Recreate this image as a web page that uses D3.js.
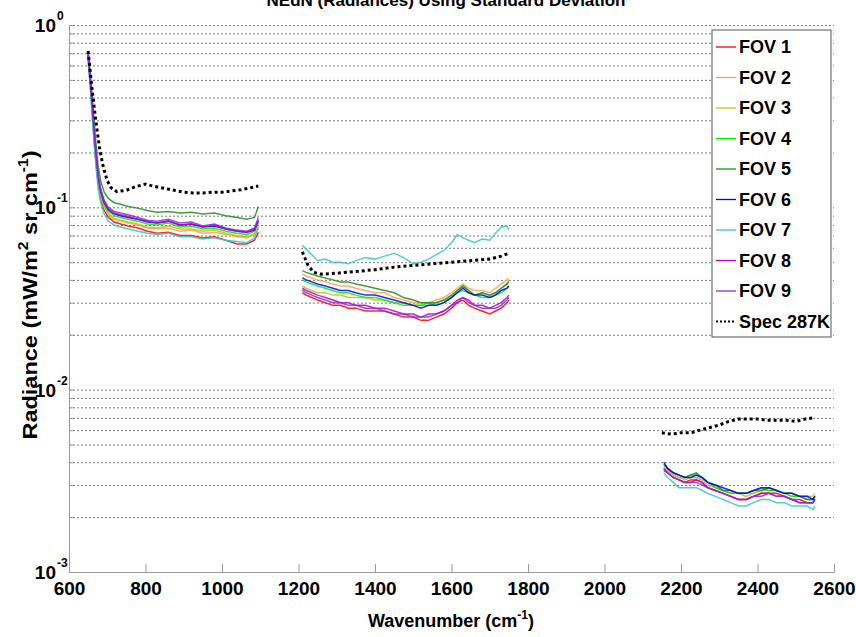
<!DOCTYPE html>
<html>
<head>
<meta charset="utf-8">
<script src="https://cdn.jsdelivr.net/npm/d3@7"></script>
<style>
  body { margin: 0; background: #fff; }
  svg { display: block; font-family: "Liberation Sans", Arial, sans-serif; }
</style>
</head>
<body>
<div id="chart"></div>
<script>
// series names + colours (MATLAB-ish)
const fovNames = ["FOV 1", "FOV 2", "FOV 3", "FOV 4", "FOV 5", "FOV 6", "FOV 7", "FOV 8", "FOV 9"];
const fovColors = ["#ff0000", "#ffa050", "#c0c020", "#00ee00", "#1e8c1e", "#0000ff", "#30c8c8", "#c000c0", "#8a2be2"];
const specName = "Spec 287K";

const xTicks = [600, 800, 1000, 1200, 1400, 1600, 1800, 2000, 2200, 2400, 2600];
const yMajor = [1e-3, 1e-2, 1e-1, 1];

// band 1 (LW)
const band1Wn = [650, 655, 660, 665, 670, 676, 683, 692, 703, 718, 735, 755, 780, 805, 830, 860, 890, 920, 950, 980, 1010, 1040, 1065, 1085, 1095];
const band1Values = [
  [0.66, 0.49, 0.35, 0.245, 0.18, 0.134, 0.111, 0.096, 0.088, 0.083, 0.081, 0.079, 0.077, 0.074, 0.072, 0.073, 0.070, 0.070, 0.068, 0.069, 0.066, 0.063, 0.063, 0.066, 0.073],
  [0.68, 0.50, 0.36, 0.255, 0.19, 0.140, 0.116, 0.100, 0.091, 0.086, 0.084, 0.082, 0.080, 0.077, 0.076, 0.077, 0.074, 0.075, 0.072, 0.073, 0.071, 0.069, 0.068, 0.071, 0.078],
  [0.67, 0.50, 0.36, 0.255, 0.19, 0.141, 0.117, 0.101, 0.092, 0.087, 0.085, 0.083, 0.081, 0.078, 0.077, 0.079, 0.076, 0.076, 0.074, 0.075, 0.072, 0.070, 0.069, 0.072, 0.079],
  [0.68, 0.51, 0.37, 0.26, 0.195, 0.145, 0.120, 0.104, 0.095, 0.090, 0.088, 0.086, 0.084, 0.081, 0.080, 0.082, 0.078, 0.079, 0.076, 0.077, 0.074, 0.072, 0.071, 0.074, 0.082],
  [0.72, 0.56, 0.42, 0.31, 0.23, 0.170, 0.139, 0.121, 0.112, 0.106, 0.104, 0.101, 0.099, 0.096, 0.094, 0.095, 0.093, 0.094, 0.092, 0.093, 0.090, 0.088, 0.086, 0.088, 0.101],
  [0.69, 0.52, 0.38, 0.27, 0.20, 0.148, 0.122, 0.106, 0.097, 0.092, 0.090, 0.088, 0.086, 0.083, 0.082, 0.084, 0.080, 0.081, 0.078, 0.079, 0.076, 0.074, 0.073, 0.075, 0.085],
  [0.64, 0.47, 0.33, 0.235, 0.172, 0.128, 0.106, 0.092, 0.084, 0.080, 0.078, 0.076, 0.074, 0.072, 0.071, 0.072, 0.069, 0.069, 0.067, 0.068, 0.066, 0.065, 0.064, 0.068, 0.077],
  [0.70, 0.52, 0.38, 0.27, 0.20, 0.149, 0.123, 0.107, 0.098, 0.093, 0.091, 0.089, 0.086, 0.084, 0.082, 0.084, 0.080, 0.081, 0.078, 0.080, 0.076, 0.074, 0.073, 0.076, 0.084],
  [0.70, 0.53, 0.39, 0.28, 0.205, 0.152, 0.126, 0.109, 0.100, 0.095, 0.093, 0.091, 0.088, 0.085, 0.084, 0.086, 0.082, 0.083, 0.079, 0.081, 0.077, 0.075, 0.074, 0.077, 0.088]
];

// band 2 (MW)
const band2Wn = [1210, 1220, 1235, 1250, 1270, 1290, 1310, 1330, 1350, 1375, 1400, 1425, 1450, 1475, 1500, 1520, 1540, 1560, 1580, 1600, 1615, 1630, 1645, 1660, 1680, 1700, 1715, 1730, 1745, 1750];
const band2Values = [
  [0.034, 0.033, 0.032, 0.031, 0.030, 0.029, 0.029, 0.028, 0.028, 0.027, 0.027, 0.027, 0.026, 0.025, 0.025, 0.024, 0.024, 0.025, 0.026, 0.028, 0.030, 0.031, 0.029, 0.028, 0.027, 0.026, 0.027, 0.028, 0.030, 0.031],
  [0.043, 0.042, 0.041, 0.040, 0.039, 0.038, 0.037, 0.037, 0.036, 0.035, 0.034, 0.034, 0.032, 0.031, 0.030, 0.030, 0.030, 0.031, 0.032, 0.034, 0.036, 0.038, 0.036, 0.035, 0.035, 0.034, 0.036, 0.038, 0.040, 0.041],
  [0.037, 0.036, 0.035, 0.034, 0.034, 0.033, 0.033, 0.032, 0.032, 0.032, 0.031, 0.031, 0.030, 0.030, 0.029, 0.029, 0.029, 0.030, 0.031, 0.032, 0.035, 0.037, 0.035, 0.033, 0.034, 0.033, 0.034, 0.036, 0.038, 0.040],
  [0.040, 0.039, 0.038, 0.037, 0.036, 0.035, 0.034, 0.034, 0.033, 0.032, 0.032, 0.031, 0.030, 0.029, 0.029, 0.029, 0.030, 0.029, 0.030, 0.032, 0.034, 0.035, 0.034, 0.033, 0.032, 0.032, 0.033, 0.034, 0.036, 0.037],
  [0.045, 0.044, 0.043, 0.042, 0.041, 0.040, 0.039, 0.039, 0.038, 0.037, 0.036, 0.035, 0.034, 0.032, 0.031, 0.030, 0.030, 0.030, 0.031, 0.033, 0.035, 0.037, 0.035, 0.033, 0.034, 0.033, 0.034, 0.036, 0.038, 0.039],
  [0.041, 0.040, 0.039, 0.038, 0.037, 0.036, 0.035, 0.035, 0.034, 0.033, 0.033, 0.032, 0.031, 0.030, 0.029, 0.028, 0.029, 0.029, 0.030, 0.032, 0.034, 0.036, 0.034, 0.033, 0.033, 0.032, 0.033, 0.035, 0.036, 0.037],
  [0.062, 0.059, 0.055, 0.051, 0.052, 0.050, 0.050, 0.049, 0.051, 0.053, 0.052, 0.054, 0.056, 0.053, 0.049, 0.050, 0.052, 0.055, 0.058, 0.064, 0.071, 0.068, 0.066, 0.064, 0.067, 0.066, 0.072, 0.078, 0.079, 0.076],
  [0.036, 0.035, 0.034, 0.033, 0.032, 0.031, 0.030, 0.030, 0.029, 0.029, 0.028, 0.028, 0.027, 0.026, 0.026, 0.025, 0.026, 0.026, 0.027, 0.029, 0.031, 0.032, 0.031, 0.029, 0.029, 0.028, 0.029, 0.030, 0.032, 0.033],
  [0.035, 0.034, 0.033, 0.032, 0.031, 0.030, 0.030, 0.029, 0.029, 0.028, 0.028, 0.027, 0.026, 0.026, 0.025, 0.025, 0.025, 0.026, 0.027, 0.029, 0.030, 0.032, 0.030, 0.029, 0.028, 0.028, 0.028, 0.029, 0.031, 0.032]
];

// band 3 (SW)
const band3Wn = [2155, 2165, 2180, 2195, 2210, 2225, 2240, 2255, 2270, 2290, 2310, 2330, 2350, 2370, 2390, 2410, 2430, 2450, 2470, 2490, 2510, 2530, 2545, 2550];
const band3Values = [
  [0.0037, 0.0035, 0.0033, 0.0032, 0.0031, 0.0032, 0.0032, 0.0031, 0.0029, 0.0028, 0.0027, 0.0026, 0.0025, 0.0025, 0.0026, 0.0027, 0.0027, 0.0027, 0.0026, 0.0025, 0.0025, 0.0024, 0.0024, 0.0025],
  [0.0038, 0.0036, 0.0034, 0.0033, 0.0033, 0.0033, 0.0033, 0.0032, 0.0030, 0.0029, 0.0028, 0.0027, 0.0027, 0.0027, 0.0027, 0.0028, 0.0029, 0.0028, 0.0027, 0.0026, 0.0026, 0.0025, 0.0025, 0.0026],
  [0.0037, 0.0036, 0.0034, 0.0033, 0.0032, 0.0033, 0.0033, 0.0032, 0.0031, 0.0029, 0.0028, 0.0027, 0.0027, 0.0026, 0.0027, 0.0028, 0.0028, 0.0028, 0.0027, 0.0027, 0.0026, 0.0026, 0.0026, 0.0027],
  [0.0039, 0.0037, 0.0035, 0.0034, 0.0033, 0.0034, 0.0034, 0.0033, 0.0031, 0.0029, 0.0028, 0.0027, 0.0027, 0.0027, 0.0028, 0.0029, 0.0028, 0.0028, 0.0027, 0.0026, 0.0026, 0.0025, 0.0025, 0.0026],
  [0.0039, 0.0037, 0.0035, 0.0034, 0.0033, 0.0034, 0.0035, 0.0033, 0.0031, 0.0030, 0.0028, 0.0028, 0.0027, 0.0027, 0.0028, 0.0028, 0.0029, 0.0028, 0.0027, 0.0027, 0.0026, 0.0025, 0.0025, 0.0026],
  [0.0040, 0.0037, 0.0035, 0.0034, 0.0033, 0.0033, 0.0034, 0.0033, 0.0031, 0.0030, 0.0029, 0.0028, 0.0027, 0.0027, 0.0028, 0.0029, 0.0029, 0.0028, 0.0027, 0.0027, 0.0026, 0.0026, 0.0025, 0.0026],
  [0.0035, 0.0033, 0.0031, 0.0029, 0.0029, 0.0029, 0.0029, 0.0028, 0.0027, 0.0026, 0.0025, 0.0024, 0.0023, 0.0023, 0.0024, 0.0025, 0.0025, 0.0024, 0.0024, 0.0023, 0.0023, 0.0023, 0.0022, 0.0023],
  [0.0036, 0.0035, 0.0033, 0.0032, 0.0031, 0.0031, 0.0032, 0.0031, 0.0029, 0.0028, 0.0027, 0.0026, 0.0025, 0.0025, 0.0026, 0.0027, 0.0027, 0.0026, 0.0026, 0.0025, 0.0024, 0.0024, 0.0024, 0.0025],
  [0.0037, 0.0035, 0.0033, 0.0032, 0.0031, 0.0031, 0.0031, 0.0030, 0.0029, 0.0028, 0.0027, 0.0026, 0.0025, 0.0025, 0.0026, 0.0026, 0.0027, 0.0026, 0.0026, 0.0025, 0.0024, 0.0024, 0.0024, 0.0025]
];

// Spec 287K, one list per band
const spec1Wn = [650, 660, 670, 680, 690, 700, 710, 725, 750, 775, 800, 825, 850, 875, 900, 925, 950, 975, 1000, 1025, 1050, 1075, 1095];
const spec1Values = [0.72, 0.45, 0.30, 0.21, 0.165, 0.14, 0.128, 0.122, 0.124, 0.130, 0.134, 0.130, 0.127, 0.124, 0.121, 0.120, 0.120, 0.121, 0.121, 0.123, 0.125, 0.128, 0.131];
const spec2Wn = [1210, 1225, 1240, 1260, 1300, 1350, 1400, 1450, 1500, 1550, 1600, 1650, 1700, 1730, 1750];
const spec2Values = [0.057, 0.048, 0.044, 0.043, 0.0435, 0.0445, 0.0455, 0.047, 0.048, 0.049, 0.050, 0.051, 0.052, 0.054, 0.056];
const spec3Wn = [2150, 2175, 2200, 2225, 2250, 2275, 2300, 2325, 2350, 2375, 2400, 2425, 2450, 2475, 2500, 2525, 2545];
const spec3Values = [0.0058, 0.0057, 0.0058, 0.0058, 0.0060, 0.0062, 0.0064, 0.0067, 0.0069, 0.0069, 0.0069, 0.0068, 0.0068, 0.0068, 0.0067, 0.0069, 0.0070];

const width = 856, height = 637;
const mLeft = 69, mRight = 834, mTop = 25, mBottom = 572;
const fam = "'Liberation Sans', Arial, sans-serif";
const font = `bold 18px ${fam}`;
const tickFont = `bold 19px ${fam}`;

const svg = d3.select("#chart").append("svg")
    .attr("width", width)
    .attr("height", height);

const x = d3.scaleLinear().domain([600, 2600]).range([mLeft, mRight]);
const y = d3.scaleLog().domain([1e-3, 1]).range([mBottom, mTop]);

// all log grid values 1..9 x 10^k
const yAll = [];
[1e-3, 1e-2, 1e-1].forEach(d => { for (let k = 1; k < 10; k++) yAll.push(d * k); });
yAll.push(1);

// dotted grid
svg.append("g")
    .attr("transform", `translate(${mLeft},0)`)
    .call(d3.axisLeft(y).tickValues(yAll.filter(v => v > 1e-3)).tickSize(-(mRight - mLeft)).tickFormat(""))
    .call(g => g.select(".domain").remove())
    .selectAll("line")
    .attr("stroke", "#7a7a7a")
    .attr("stroke-dasharray", "2,2");

// left axis + ticks
svg.append("g")
    .attr("transform", `translate(${mLeft},0)`)
    .call(d3.axisLeft(y).tickValues(yAll).tickSizeInner(-4).tickSizeOuter(0).tickFormat(""))
    .call(g => g.select(".domain").attr("stroke", "#9a9a9a"))
    .selectAll("line").attr("stroke", "#9a9a9a");

// bottom axis
svg.append("g")
    .attr("transform", `translate(0,${mBottom})`)
    .call(d3.axisBottom(x).tickValues(xTicks).tickSizeInner(-8).tickSizeOuter(0).tickPadding(6).tickFormat(d3.format("d")))
    .call(g => g.select(".domain").attr("stroke", "#9a9a9a"))
    .call(g => g.selectAll("line").attr("stroke", "#9a9a9a"))
    .selectAll("text")
    .style("font", tickFont)
    .attr("fill", "#000")
    .attr("dy", "0.9em");

// y tick labels 10^k
const yLab = svg.append("g");
yMajor.forEach(v => {
  yLab.append("text")
      .attr("x", 56)
      .attr("y", y(v) + 7)
      .attr("text-anchor", "end")
      .style("font", tickFont)
      .text("10");
  yLab.append("text")
      .attr("x", 57)
      .attr("y", y(v) - 5)
      .style("font", `bold 12px ${fam}`)
      .text(Math.round(Math.log10(v)));
});

// lines
const line = d3.line().x(d => x(d[0])).y(d => y(d[1]));
const bands = [[band1Wn, band1Values], [band2Wn, band2Values], [band3Wn, band3Values]];
const plot = svg.append("g");
fovNames.forEach((name, i) => {
  bands.forEach(([wn, vals]) => {
    plot.append("path")
        .datum(wn.map((w, j) => [w, vals[i][j]]))
        .attr("d", line)
        .attr("fill", "none")
        .attr("stroke", fovColors[i])
        .attr("stroke-width", 1.5)
        .attr("stroke-opacity", 0.85);
  });
});

[[spec1Wn, spec1Values], [spec2Wn, spec2Values], [spec3Wn, spec3Values]].forEach(([wn, vals]) => {
  plot.append("path")
      .datum(wn.map((w, j) => [w, vals[j]]))
      .attr("d", line)
      .attr("fill", "none")
      .attr("stroke", "#000")
      .attr("stroke-width", 3)
      .attr("stroke-dasharray", "3,3");
});

// legend
const legend = svg.append("g").attr("transform", "translate(712,30)");
legend.append("rect")
    .attr("width", 119).attr("height", 307)
    .attr("fill", "#fff").attr("stroke", "#555");
const legendItems = fovNames.map((n, i) => ({ name: n, color: fovColors[i], dash: null, w: 1.3 }))
    .concat([{ name: specName, color: "#000", dash: "2,2", w: 2 }]);
legendItems.forEach((d, i) => {
  const yy = 17 + i * 30.5;
  legend.append("line")
      .attr("x1", 4).attr("x2", 24).attr("y1", yy).attr("y2", yy)
      .attr("stroke", d.color).attr("stroke-width", d.w)
      .attr("stroke-dasharray", d.dash);
  legend.append("text")
      .attr("x", 27).attr("y", yy + 6)
      .style("font", font)
      .text(d.name);
});

// title + axis labels
svg.append("text")
    .attr("x", 446).attr("y", 6)
    .attr("text-anchor", "middle")
    .style("font", `bold 17px ${fam}`)
    .text("NEdN (Radiances) Using Standard Deviation");

const xl = svg.append("text")
    .attr("x", 451).attr("y", 627)
    .attr("text-anchor", "middle")
    .style("font", font);
xl.append("tspan").text("Wavenumber (cm");
xl.append("tspan").attr("dy", -8).style("font-size", "12px").text("-1");
xl.append("tspan").attr("dy", 8).text(")");

// y label is a bit stretched along its length in the original
const yl = svg.append("text")
    .attr("transform", "translate(37,295) rotate(-90) scale(1.12,1)")
    .attr("text-anchor", "middle")
    .style("font", `bold 21px ${fam}`);
yl.append("tspan").text("Radiance (mW/m");
yl.append("tspan").attr("dy", -9).style("font-size", "14px").text("2");
yl.append("tspan").attr("dy", 9).text(" sr cm");
yl.append("tspan").attr("dy", -9).style("font-size", "14px").text("-1");
yl.append("tspan").attr("dy", 9).text(")");
</script>
</body>
</html>
